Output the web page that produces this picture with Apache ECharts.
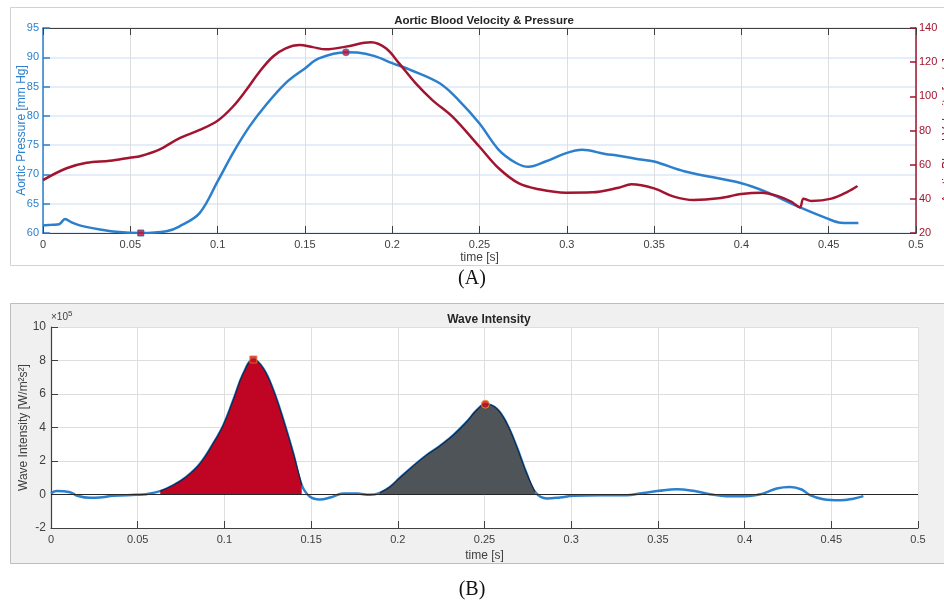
<!DOCTYPE html>
<html>
<head>
<meta charset="utf-8">
<title>Aortic Blood Velocity &amp; Pressure / Wave Intensity</title>
<script src="https://cdn.jsdelivr.net/npm/echarts@6/dist/echarts.min.js"></script>
<style>
    html, body { margin: 0; padding: 0; background: #fff; }
    #chart { width: 944px; height: 605px; }
</style>
</head>
<body>
<div id="chart"></div>
<script>
    // (A) aortic pressure [mm Hg]
    const pressureT = [0, 0.005, 0.0093, 0.0126, 0.0164, 0.021, 0.0326, 0.042, 0.056, 0.0707, 0.078, 0.0897,
        0.1, 0.1087, 0.1183, 0.1278, 0.139, 0.15, 0.158, 0.1735, 0.18, 0.19, 0.2, 0.21, 0.227, 0.238, 0.25,
        0.261, 0.2707, 0.278, 0.2878, 0.2993, 0.3088, 0.322, 0.3297, 0.341, 0.35, 0.3678, 0.4, 0.4135,
        0.4326, 0.449, 0.457, 0.467];
    const pressure = [61.3, 61.4, 61.5, 62.4, 61.8, 61.3, 60.6, 60.2, 60.0, 60.3, 61.1, 63.4,
        68.8, 73.6, 78.2, 81.9, 85.6, 88.1, 89.8, 90.85, 90.8, 90.2, 89.0, 87.9, 85.6, 82.7, 78.7,
        74.2, 72.0, 71.3, 72.2, 73.6, 74.2, 73.5, 73.2, 72.6, 72.2, 70.5, 68.5, 67.1,
        64.5, 62.5, 61.75, 61.7];

    // (A) aortic blood velocity [cm/s], red curve
    const velocityT = [0, 0.0135, 0.025, 0.0383, 0.0497, 0.056, 0.0669, 0.078, 0.0897, 0.1, 0.1087, 0.1164,
        0.124, 0.1316, 0.139, 0.1469, 0.1545, 0.162, 0.1735, 0.1878, 0.1964, 0.204, 0.2135, 0.223, 0.2345,
        0.25, 0.261, 0.2726, 0.284, 0.2993, 0.3145, 0.3297, 0.337, 0.35, 0.3613, 0.3727, 0.3869, 0.4,
        0.4116, 0.421, 0.4287, 0.4335, 0.4356, 0.44, 0.4516, 0.461, 0.4665];
    const velocity = [51.0, 57.9, 61.1, 62.3, 64.1, 65.1, 69.0, 75.4, 80.3, 85.7, 93.9, 103.7,
        114.4, 123.2, 128.1, 130.0, 128.8, 127.5, 129.1, 131.6, 128.1, 119.3, 107.6, 97.8, 88.1,
        70.5, 57.9, 49.0, 45.6, 43.6, 43.8, 46.5, 48.5, 46.1, 41.3, 39.3, 40.3, 42.8,
        43.6, 41.6, 38.3, 35.0, 40.1, 38.7, 40.1, 44.2, 47.5];

    // marked points on (A)
    const pressureMinPt = [0.056, 60.0];
    const pressurePeakPt = [0.1735, 90.85];

    // (B) wave intensity [x10^5 W/m^2 s^2]
    const waveT = [0, 0.003, 0.011, 0.0148, 0.0225, 0.028, 0.036, 0.049, 0.055, 0.063,
        0.0705, 0.078, 0.086, 0.0936, 0.0994, 0.1051, 0.1109, 0.1167, 0.1224, 0.1282,
        0.134, 0.1397, 0.1446, 0.1494, 0.155, 0.161, 0.1686, 0.1763, 0.184, 0.1897,
        0.1955, 0.2013, 0.209, 0.2166, 0.2243, 0.232, 0.2397, 0.2455, 0.2505, 0.257,
        0.2628, 0.2686, 0.2743, 0.2791, 0.2859, 0.2935, 0.3012, 0.3166, 0.332, 0.3397,
        0.3506, 0.3608, 0.3704, 0.38, 0.3897, 0.4004, 0.4108, 0.4185, 0.4262, 0.4329,
        0.4377, 0.4454, 0.455, 0.4627, 0.4685];
    const wave = [0.06, 0.21, 0.14, -0.06, -0.2, -0.18, -0.08, -0.02, 0.02, 0.2,
        0.55, 1.05, 1.85, 3.05, 4.14, 5.63, 7.22, 8.06, 7.52, 6.23,
        4.44, 2.45, 0.56, -0.14, -0.3, -0.18, 0.06, 0.06, -0.02, 0.1,
        0.45, 1.0, 1.71, 2.35, 2.9, 3.54, 4.33, 5.03, 5.39, 5.13,
        4.24, 2.84, 1.25, 0.16, -0.24, -0.18, -0.08, -0.05, -0.05, 0.06,
        0.22, 0.32, 0.22, 0.02, -0.1, -0.1, 0.06, 0.36, 0.45, 0.3,
        -0.04, -0.28, -0.34, -0.25, -0.1];

    // shaded waves (time windows) and their peaks
    const forwardWave = [0.062, 0.145];
    const backwardWave = [0.189, 0.28];
    const forwardPeakPt = [0.1167, 8.06];
    const backwardPeakPt = [0.2505, 5.39];

    const BLUE = '#2b7fcd';
    const RED = '#a2142f';
    const DARK = '#404040';
    const FONT = 'Liberation Sans, Arial, sans-serif';

    const zip = (xs, ys) => xs.map((x, i) => [x, ys[i]]);
    const pick = (win) => zip(waveT, wave).filter(p => p[0] >= win[0] && p[0] <= win[1]);
    const tickFmt = v => String(+v.toFixed(2));

    const chart = echarts.init(document.getElementById('chart'));

    const timeAxis = (grid, extra) => Object.assign({
        type: 'value', gridIndex: grid, min: 0, max: 0.5, interval: 0.05, nameMoveOverlap: false,
        axisLine: { onZero: false, lineStyle: { color: DARK, width: 1.2 } },
        axisTick: { inside: true, length: 7, lineStyle: { color: DARK } },
        axisLabel: { color: DARK, fontSize: 11, fontFamily: FONT, formatter: tickFmt, margin: 6 },
        splitLine: { show: true, lineStyle: { color: '#dedede', width: 1 } }
    }, extra);

    chart.setOption({
        animation: false,
        backgroundColor: '#fff',
        textStyle: { fontFamily: FONT },
        title: [
            { text: 'Aortic Blood Velocity & Pressure', left: 479, top: 10, textAlign: 'center',
              textStyle: { fontSize: 11.5, fontWeight: 'bold', color: '#262626', fontFamily: FONT } },
            { text: 'Wave Intensity', left: 484, top: 309, textAlign: 'center',
              textStyle: { fontSize: 12, fontWeight: 'bold', color: '#262626', fontFamily: FONT } }
        ],
        graphic: [
            { type: 'rect', z: -10, shape: { x: 10.5, y: 7.5, width: 960, height: 258 },
              style: { fill: '#fff', stroke: '#d2d2d2', lineWidth: 1 } },
            { type: 'rect', z: -10, shape: { x: 10.5, y: 303.5, width: 960, height: 260 },
              style: { fill: '#f0f0f0', stroke: '#bdbdbd', lineWidth: 1 } },
            { type: 'text', left: 'center', top: 269, z: 5,
              style: { text: '(A)', fontSize: 20, fontFamily: 'Liberation Serif, Times New Roman, serif', fill: '#111' } },
            { type: 'text', left: 'center', top: 580, z: 5,
              style: { text: '(B)', fontSize: 20, fontFamily: 'Liberation Serif, Times New Roman, serif', fill: '#111' } },
            { type: 'text', left: 51, top: 310, z: 5,
              style: {
                  text: '{a|×10}{b|5}', fill: DARK,
                  rich: {
                      a: { fontSize: 10, fontFamily: FONT, fill: DARK, verticalAlign: 'bottom', lineHeight: 12 },
                      b: { fontSize: 8, fontFamily: FONT, fill: DARK, verticalAlign: 'top', lineHeight: 12 }
                  }
              } }
        ],
        grid: [
            { left: 43, top: 28, width: 873, height: 205, containLabel: false, outerBoundsMode: 'none' },
            { left: 51, top: 327, width: 867, height: 201, containLabel: false, outerBoundsMode: 'none',
              show: true, backgroundColor: '#fff', borderWidth: 0 }
        ],
        xAxis: [
            timeAxis(0, { name: 'time [s]', nameLocation: 'middle', nameGap: 19,
                nameTextStyle: { color: DARK, fontSize: 12, fontFamily: FONT } }),
            timeAxis(0, { position: 'top', axisLabel: { show: false }, splitLine: { show: false } }),
            timeAxis(1, { name: 'time [s]', nameLocation: 'middle', nameGap: 22,
                nameTextStyle: { color: DARK, fontSize: 12, fontFamily: FONT } })
        ],
        yAxis: [
            { type: 'value', gridIndex: 0, min: 60, max: 95, interval: 5, position: 'left',
              name: 'Aortic Pressure [mm Hg]', nameLocation: 'middle', nameGap: 15, nameMoveOverlap: false,
              nameTextStyle: { color: BLUE, fontSize: 12, fontFamily: FONT },
              axisLine: { show: true, onZero: false, lineStyle: { color: BLUE, width: 1.5 } },
              axisTick: { show: true, inside: true, length: 7, lineStyle: { color: BLUE, width: 1.5 } },
              axisLabel: { color: BLUE, fontSize: 11, fontFamily: FONT, margin: 4 },
              splitLine: { show: true, lineStyle: { color: '#dde9f6', width: 1.5 } } },
            { type: 'value', gridIndex: 0, min: 20, max: 140, interval: 20, position: 'right',
              name: 'Aortic Blood Velocity [cm/s]', nameLocation: 'middle', nameGap: 26, nameRotate: 90,
              nameMoveOverlap: false,
              nameTextStyle: { color: RED, fontSize: 12, fontFamily: FONT },
              axisLine: { show: true, onZero: false, lineStyle: { color: RED, width: 1.5 } },
              axisTick: { show: true, inside: true, length: 6, lineStyle: { color: RED, width: 1.5 } },
              axisLabel: { color: RED, fontSize: 11, fontFamily: FONT, margin: 3 },
              splitLine: { show: false } },
            { type: 'value', gridIndex: 1, min: -2, max: 10, interval: 2,
              name: 'Wave Intensity [W/m²s²]', nameLocation: 'middle', nameGap: 21, nameMoveOverlap: false,
              nameTextStyle: { color: DARK, fontSize: 12, fontFamily: FONT },
              axisLine: { show: true, onZero: false, lineStyle: { color: DARK, width: 1.2 } },
              axisTick: { show: true, inside: true, length: 7, lineStyle: { color: DARK } },
              axisLabel: { color: DARK, fontSize: 12, fontFamily: FONT, margin: 5 },
              splitLine: { show: true, lineStyle: { color: '#dedede', width: 1 } } }
        ],
        series: [
            {
                name: 'Aortic Pressure', type: 'line', xAxisIndex: 0, yAxisIndex: 0,
                data: zip(pressureT, pressure), showSymbol: false, smooth: 0.35,
                lineStyle: { color: BLUE, width: 2.5 }, z: 3
            },
            {
                name: 'Aortic Blood Velocity', type: 'line', xAxisIndex: 0, yAxisIndex: 1,
                data: zip(velocityT, velocity), showSymbol: false, smooth: 0.35,
                lineStyle: { color: RED, width: 2.5 }, z: 3
            },
            {
                type: 'scatter', xAxisIndex: 0, yAxisIndex: 0, data: [pressureMinPt],
                symbol: 'rect', symbolSize: 6, z: 5,
                itemStyle: { color: '#c3102e', borderColor: '#2456a6', borderWidth: 1 }
            },
            {
                type: 'scatter', xAxisIndex: 0, yAxisIndex: 0, data: [pressurePeakPt],
                symbol: 'circle', symbolSize: 7, z: 5,
                itemStyle: { color: '#c3102e', borderColor: '#2b7fcd', borderWidth: 1 }
            },
            {
                name: 'Wave Intensity', type: 'line', xAxisIndex: 2, yAxisIndex: 2,
                data: zip(waveT, wave), showSymbol: false, smooth: 0.4,
                lineStyle: { color: BLUE, width: 2.5 }, z: 2
            },
            {
                type: 'line', xAxisIndex: 2, yAxisIndex: 2, data: pick(forwardWave),
                showSymbol: false, smooth: 0.4,
                lineStyle: { color: '#0d2a4d', width: 1.2 },
                areaStyle: { color: '#c00524', opacity: 1, origin: 0 }, z: 3
            },
            {
                type: 'line', xAxisIndex: 2, yAxisIndex: 2, data: pick(backwardWave),
                showSymbol: false, smooth: 0.4,
                lineStyle: { color: '#0d2a4d', width: 1.2 },
                areaStyle: { color: '#4f5458', opacity: 1, origin: 0 }, z: 3,
                markLine: {
                    silent: true, symbol: 'none', label: { show: false },
                    lineStyle: { color: '#262626', width: 1, type: 'solid' },
                    data: [{ yAxis: 0 }]
                }
            },
            {
                type: 'scatter', xAxisIndex: 2, yAxisIndex: 2, data: [forwardPeakPt],
                symbol: 'rect', symbolSize: 7, z: 5,
                itemStyle: { color: '#d0101e', borderColor: '#e8742a', borderWidth: 1 }
            },
            {
                type: 'scatter', xAxisIndex: 2, yAxisIndex: 2, data: [backwardPeakPt],
                symbol: 'circle', symbolSize: 8, z: 5,
                itemStyle: { color: '#d0101e', borderColor: '#e8a02a', borderWidth: 1 }
            }
        ]
    });
</script>
</body>
</html>
